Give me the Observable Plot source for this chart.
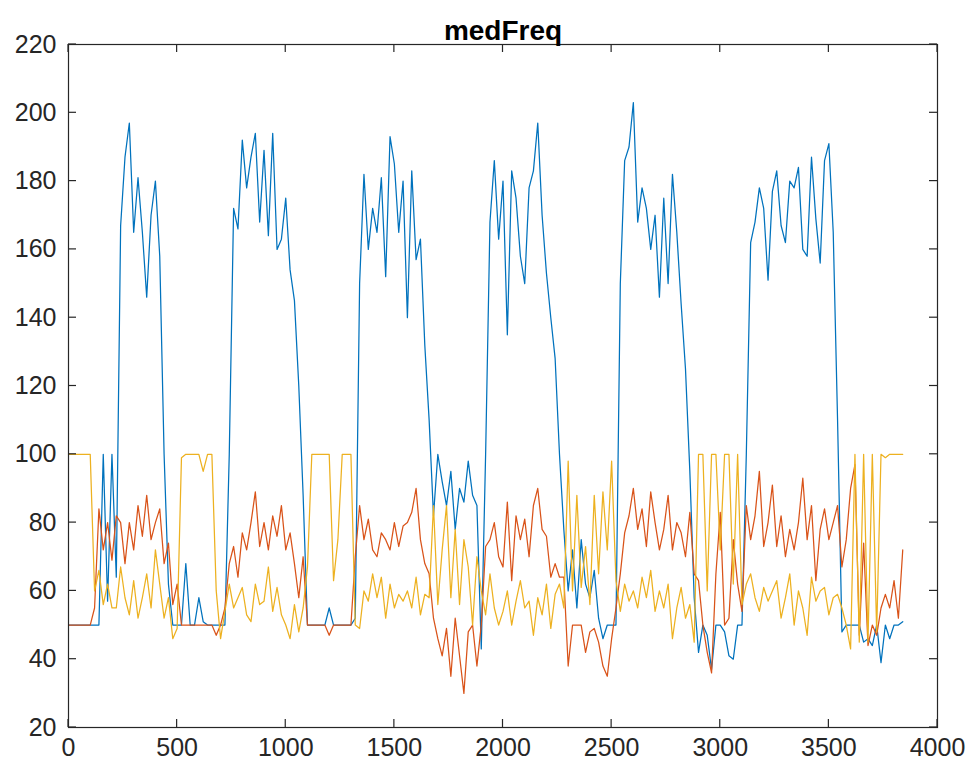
<!DOCTYPE html>
<html><head><meta charset="utf-8">
<script src="https://cdn.jsdelivr.net/npm/d3@7"></script>
<script src="https://cdn.jsdelivr.net/npm/@observablehq/plot@0.6"></script>
<style>
body{margin:0;background:#fff;}
#chart{width:971px;height:776px;}
</style></head><body><div id="chart"></div>
<script>
const title = "medFreq";
const sampleStep = 20; // spacing of samples along x
const blue = [
50,50,50,50,50,50,50,50,100,57,
100,64,167,187,197,165,181,165,146,170,
180,158,100,62,50,50,50,68,50,50,
58,51,50,50,50,50,50,100,172,166,
192,178,187,194,168,189,164,194,160,163,
175,154,145,120,88,50,50,50,50,50,
55,50,50,50,50,50,52,150,182,160,
172,165,181,152,193,185,165,180,140,183,
157,163,132,110,82,100,92,85,95,78,
90,86,98,88,85,43,100,168,186,163,
180,135,183,175,158,150,178,183,197,170,
153,140,128,100,78,60,72,55,75,62,
58,66,52,46,50,50,50,150,186,190,
203,168,178,172,160,170,146,175,150,182,
165,144,125,95,58,42,50,47,37,50,
50,48,41,40,50,50,100,162,168,178,
172,151,177,183,167,162,180,178,184,160,
158,187,169,156,186,191,165,110,48,50,
50,50,50,45,46,44,50,39,50,46,
50,50,51];
const orange = [
50,50,50,50,50,50,55,84,72,80,
69,82,80,68,80,72,85,76,88,75,
80,84,68,74,56,62,50,50,50,50,
50,50,50,50,47,50,55,68,73,64,
77,72,80,89,73,80,72,82,76,85,
72,77,68,58,70,50,50,50,50,50,
47,50,50,50,50,50,70,85,75,81,
72,70,77,75,72,80,73,79,80,83,
90,75,68,65,52,46,41,49,35,52,
41,30,48,50,38,50,73,75,80,70,
67,86,63,82,75,81,70,85,90,78,
76,64,68,64,64,38,50,50,50,42,
48,49,45,38,35,46,55,65,77,82,
90,78,84,73,89,80,72,78,88,72,
80,77,70,83,65,63,50,42,36,65,
83,50,52,75,62,54,85,75,82,95,
73,80,91,73,82,70,78,72,80,93,
75,85,63,78,84,75,80,85,67,75,
90,97,47,74,44,50,47,55,59,55,
63,52,72];
const yellow = [
100,100,100,100,100,100,60,66,56,62,
55,55,67,58,53,63,52,58,65,55,
72,62,52,58,46,49,99,100,100,100,
100,95,100,100,60,46,54,62,55,58,
61,53,51,62,56,57,67,54,61,53,
50,46,56,48,55,67,100,100,100,100,
100,63,75,100,100,100,50,49,60,57,
65,58,64,52,62,55,59,57,60,55,
64,53,59,58,85,56,72,85,58,78,
56,75,67,50,70,60,53,65,55,50,
54,60,50,57,63,55,57,47,58,53,
62,49,59,62,55,98,60,88,61,73,
56,88,65,89,72,98,63,54,62,57,
60,55,64,58,66,54,60,55,62,46,
55,61,52,56,45,100,100,60,100,100,
72,100,100,62,100,56,62,65,58,54,
61,57,60,63,52,58,65,50,60,55,
47,64,57,60,61,53,58,59,55,50,
43,100,45,100,45,100,48,100,99,100,
100,100,100];
const xTicks = [0,500,1000,1500,2000,2500,3000,3500,4000];
const yTicks = [20,40,60,80,100,120,140,160,180,200,220];
const seriesColors = ["#0072BD","#D95319","#EDB120"];

const toRows = vals => vals.map((v, i) => ({x: i * sampleStep, y: v}));
const series = [blue, orange, yellow];

const W = 971, H = 776, mL = 68, mR = 34, mT = 44, mB = 49;
const tickLen = 8;
const font = "'Liberation Sans', Arial, Helvetica, sans-serif";
const ink = "#262626";

const chart = Plot.plot({
  width: W,
  height: H,
  marginLeft: mL,
  marginRight: mR,
  marginTop: mT,
  marginBottom: mB,
  style: {fontFamily: font, color: ink, background: "#fff"},
  x: {domain: [0, 4000]},
  y: {domain: [20, 220]},
  marks: [
    ...series.map((vals, k) => Plot.line(toRows(vals), {x: "x", y: "y", stroke: seriesColors[k], strokeWidth: 1.25})),
    Plot.frame({stroke: ink, strokeWidth: 1.2}),
    Plot.axisX(xTicks, {anchor: "bottom", tickSize: 0, tickPadding: 11, fontSize: 25, label: null, fill: ink, tickFormat: d => String(d)}),
    Plot.axisY(yTicks, {anchor: "left", tickSize: 0, tickPadding: 12, fontSize: 25, label: null, fill: ink, tickFormat: d => String(d)}),
    Plot.text([title], {frameAnchor: "top", dy: -24, fontSize: 28, fontWeight: "bold", fill: "#000", text: d => d})
  ]
});

// inward tick marks on all four sides, positioned with the chart's own scales
const sx = chart.scale("x"), sy = chart.scale("y");
const edgeL = mL, edgeR = W - mR, edgeT = mT, edgeB = H - mB;
const tg = d3.select(chart).append("g").attr("stroke", ink).attr("stroke-width", 1.2);
xTicks.forEach(t => {
  const px = sx.apply(t);
  tg.append("line").attr("x1", px).attr("x2", px).attr("y1", edgeB).attr("y2", edgeB - tickLen);
  tg.append("line").attr("x1", px).attr("x2", px).attr("y1", edgeT).attr("y2", edgeT + tickLen);
});
yTicks.forEach(t => {
  const py = sy.apply(t);
  tg.append("line").attr("y1", py).attr("y2", py).attr("x1", edgeL).attr("x2", edgeL + tickLen);
  tg.append("line").attr("y1", py).attr("y2", py).attr("x1", edgeR).attr("x2", edgeR - tickLen);
});
document.getElementById("chart").appendChild(chart);
</script></body></html>
